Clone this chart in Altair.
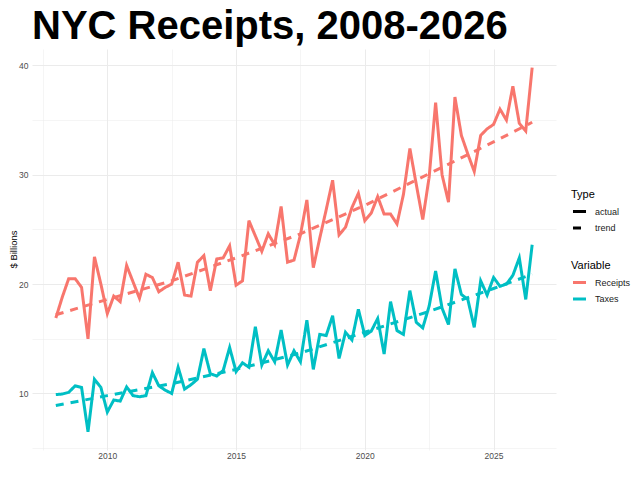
import altair as alt
import pandas as pd

# Quarterly actuals, 2008 Q1 .. 2026 Q3 (75 quarters)
start_year = 2008.0
receipts = [16.9, 18.8, 20.5, 20.5, 19.7, 15.0, 22.5, 20.0, 17.3, 18.9,
            18.4, 21.7, 20.2, 18.7, 20.9, 20.6, 19.3, 19.7, 20.0, 22.0,
            19.0, 18.9, 22.0, 22.6, 19.4, 22.3, 22.4, 23.5, 19.9, 20.3,
            25.8, 24.4, 23.0, 24.6, 23.6, 27.1, 22.0, 22.2, 24.5, 27.7,
            21.5, 24.2, 26.8, 29.5, 24.5, 25.2, 27.0, 28.3, 25.8, 26.5,
            28.0, 26.4, 26.4, 25.5, 28.2, 32.4, 29.1, 25.9, 29.8, 36.6,
            30.0, 27.5, 37.1, 33.6, 31.9, 30.3, 33.6, 34.2, 34.6, 36.0,
            35.0, 38.1, 34.7, 34.0, 39.8]
taxes = [9.9, 9.95, 10.1, 10.7, 10.55, 6.5, 11.3, 10.55, 8.3, 9.4,
         9.3, 10.6, 9.8, 9.7, 9.8, 11.9, 10.7, 10.3, 10.0, 12.4,
         10.4, 10.8, 11.3, 14.1, 11.8, 11.6, 12.1, 14.2, 12.0, 12.8,
         12.4, 16.1, 12.6, 13.9, 12.9, 15.8, 12.6, 13.9, 12.9, 16.7,
         12.2, 15.4, 15.3, 17.1, 13.2, 15.6, 14.9, 17.7, 15.3, 15.7,
         16.85, 13.6, 18.4, 15.75, 15.4, 19.4, 16.5, 16.0, 18.0, 21.2,
         17.8, 16.3, 21.4, 19.05, 18.6, 16.05, 20.3, 19.0, 20.6, 19.8,
         20.0, 20.8, 22.4, 18.6, 23.6]

# Trend lines read at a few points
trend_years = [2008.0, 2010.0, 2012.5, 2015.0, 2017.5, 2020.0, 2022.5, 2025.0, 2026.5]
receipts_trend = [17.2, 18.6, 20.3, 22.4, 24.6, 27.2, 30.1, 33.0, 34.8]
taxes_trend = [8.9, 9.8, 10.9, 12.2, 13.7, 15.6, 17.5, 19.6, 20.9]

x_breaks = [2007.5, 2010, 2012.5, 2015, 2017.5, 2020, 2022.5, 2025, 2027.5]
y_breaks = [5, 10, 15, 20, 25, 30, 35, 40]

rows = []
for i, v in enumerate(receipts):
    rows.append({"t": start_year + i * 0.25, "value": v, "Variable": "Receipts", "Type": "actual"})
for i, v in enumerate(taxes):
    rows.append({"t": start_year + i * 0.25, "value": v, "Variable": "Taxes", "Type": "actual"})
for t, v in zip(trend_years, receipts_trend):
    rows.append({"t": t, "value": v, "Variable": "Receipts", "Type": "trend"})
for t, v in zip(trend_years, taxes_trend):
    rows.append({"t": t, "value": v, "Variable": "Taxes", "Type": "trend"})
df = pd.DataFrame(rows)

FONT = "Liberation Sans"

chart = alt.Chart(df).mark_line(strokeWidth=3, strokeCap="butt").encode(
    x=alt.X("t:Q",
            scale=alt.Scale(domain=[2007.075, 2027.425], nice=False, zero=False),
            axis=alt.Axis(title=None, values=x_breaks,
                          labelExpr="datum.value % 5 === 0 ? datum.label : ''",
                          format="d",
                          gridWidth={"condition": {"test": "datum.value % 5 === 0", "value": 1}, "value": 0.5},
                          labelPadding=1)),
    y=alt.Y("value:Q",
            scale=alt.Scale(domain=[4.83, 41.5], nice=False, zero=False),
            axis=alt.Axis(title="$ Billions", values=y_breaks,
                          labelExpr="datum.value % 10 === 0 ? datum.label : ''",
                          gridWidth={"condition": {"test": "datum.value % 10 === 0", "value": 1}, "value": 0.5},
                          labelPadding=4, titleX=-14, titleY=200, titleAngle=270,
                          titleBaseline="bottom", titleAlign="center",
                          titleFontSize=9.5, titleFontWeight="normal", titleColor="black")),
    color=alt.Color("Variable:N",
                    scale=alt.Scale(domain=["Receipts", "Taxes"], range=["#F8766D", "#00BFC4"]),
                    legend=alt.Legend(title="Variable", orient="none", legendX=539, legendY=211,
                                      symbolType="stroke", symbolStrokeWidth=3, symbolSize=170,
                                      labelOffset=7, rowPadding=1.5, titlePadding=3)),
    strokeDash=alt.StrokeDash("Type:N",
                              scale=alt.Scale(domain=["actual", "trend"], range=[[1, 0], [8, 7]]),
                              legend=alt.Legend(title="Type", orient="none", legendX=539, legendY=140,
                                                symbolType="stroke", symbolStrokeWidth=3, symbolSize=170,
                                                symbolStrokeColor="black",
                                                labelOffset=7, rowPadding=1.5, titlePadding=3)),
    detail="Variable:N",
).properties(
    width=524,
    height=401,
    autosize=alt.AutoSizeParams(type="none"),
    padding={"left": 24, "top": 41, "right": 76, "bottom": 22},
    title=alt.Title("NYC Receipts, 2008-2026", anchor="start", frame="group", fontSize=40, font=FONT,
                    fontWeight="bold", color="black", offset=2),
).configure_view(stroke=None).configure_axis(
    labelFont=FONT, titleFont=FONT, labelFontSize=8.5, labelColor="#4D4D4D",
    domain=False, ticks=False, gridColor="#EBEBEB",
).configure_legend(
    labelFont=FONT, titleFont=FONT, labelFontSize=9, titleFontSize=11,
    titleFontWeight="normal", labelColor="#1A1A1A", titleColor="black", padding=0,
)

chart.save("out.html", embed_options={"renderer": "svg", "actions": False})
